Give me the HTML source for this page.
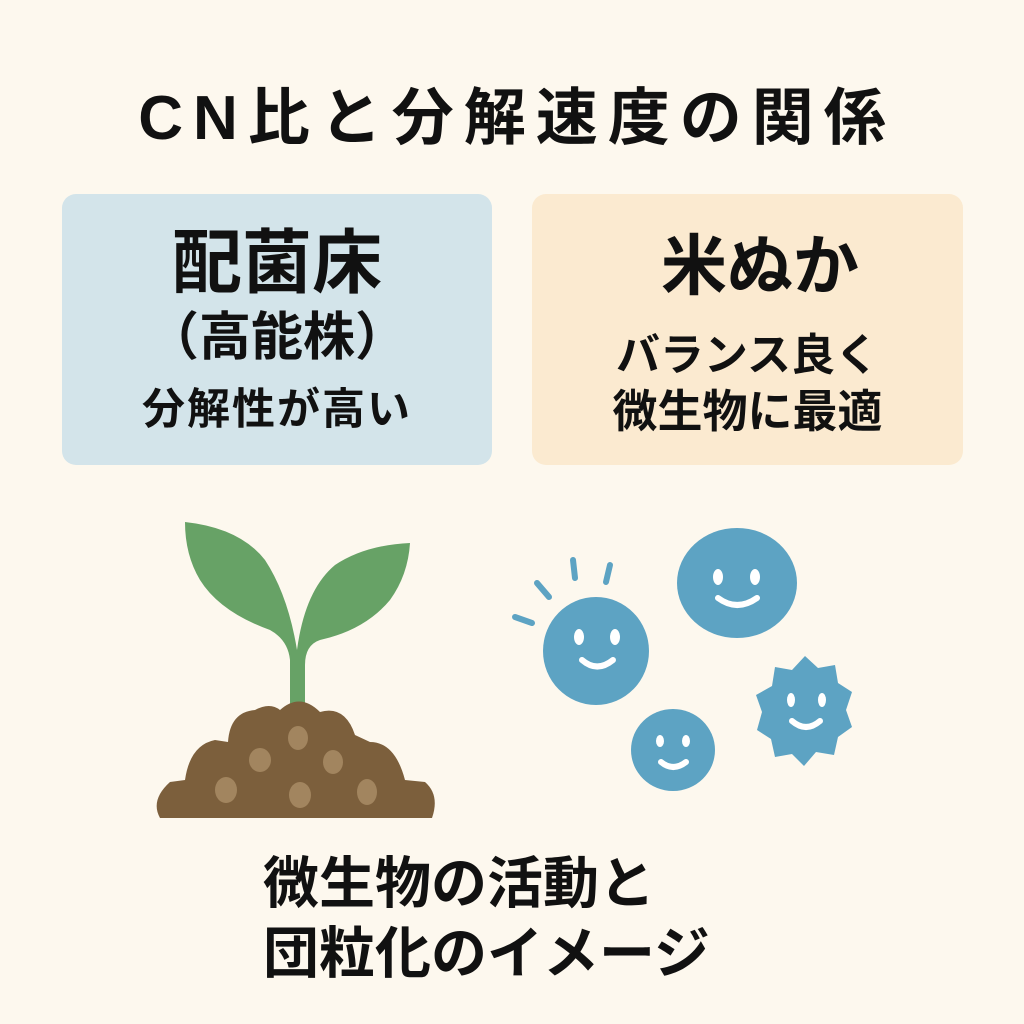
<!DOCTYPE html>
<html><head><meta charset="utf-8"><style>
body{margin:0;width:1024px;height:1024px;background:#fdf8ee;position:relative;overflow:hidden;font-family:"Liberation Sans","Noto Sans CJK JP",sans-serif;color:#111}
.t{position:absolute;white-space:nowrap;font-weight:bold;line-height:1}
.box{position:absolute;border-radius:14px}
</style></head><body>
<div class="t" style="left:0;width:1024px;text-align:center;top:88px;font-size:62px;letter-spacing:10px;text-indent:10px">CN比と分解速度の関係</div>
<div class="box" style="left:62px;top:194px;width:430px;height:271px;background:#d3e4ea"></div>
<div class="box" style="left:532px;top:194px;width:431px;height:271px;background:#fbead0"></div>
<div class="t" style="left:62px;width:430px;text-align:center;top:228px;font-size:70px;">配菌床</div>
<div class="t" style="left:62px;width:430px;text-align:center;top:312px;font-size:52px;">（高能株）</div>
<div class="t" style="left:62px;width:430px;text-align:center;top:389px;font-size:43px;letter-spacing:2px">分解性が高い</div>
<div class="t" style="left:545px;width:430px;text-align:center;top:233px;font-size:66px;">米ぬか</div>
<div class="t" style="left:532px;width:431px;text-align:center;top:334px;font-size:44px;">バランス良く</div>
<div class="t" style="left:532px;width:431px;text-align:center;top:389px;font-size:45px;">微生物に最適</div>
<div class="t" style="left:263px;top:856px;font-size:56px;">微生物の活動と</div>
<div class="t" style="left:263px;top:926px;font-size:56px;">団粒化のイメージ</div>
<svg width="1024" height="1024" style="position:absolute;left:0;top:0">
<path d="M290 706 L290 660 Q288 640 270 630 Q220 612 200 580 Q185 555 185 522 Q240 528 265 560 Q288 595 297 650 Q305 590 335 565 Q365 545 410 543 Q408 575 390 600 Q365 630 320 640 Q305 645 305 665 L305 706 Z" fill="#67a266"/>
<path d="M160 818 Q150 800 170 782 L185 780 Q190 745 215 740 L228 742 Q230 712 255 710 Q270 702 280 710 Q300 692 320 712 Q345 705 355 735 L370 742 Q395 742 405 780 L425 782 Q440 795 432 818 Z" fill="#7c5f3c"/>
<g fill="#a2855f"><ellipse cx="298" cy="738" rx="10" ry="12"/><ellipse cx="260" cy="760" rx="11" ry="12"/><ellipse cx="333" cy="762" rx="10" ry="12"/><ellipse cx="226" cy="790" rx="11" ry="13"/><ellipse cx="300" cy="795" rx="11" ry="13"/><ellipse cx="367" cy="792" rx="10" ry="13"/></g>
<g fill="#5da3c3"><ellipse cx="596" cy="651" rx="53" ry="54"/><ellipse cx="737" cy="583" rx="60" ry="55"/><ellipse cx="673" cy="750" rx="42" ry="41"/>
<path d="M805 656 L818 668 L835 665 L838 683 L852 692 L846 710 L852 727 L838 737 L834 755 L816 752 L804 766 L792 754 L775 757 L771 739 L757 730 L762 712 L756 695 L772 686 L775 667 L792 670 Z"/></g>
<g stroke="#5da3c3" stroke-width="6" stroke-linecap="round"><line x1="515" y1="617" x2="532" y2="623"/><line x1="537" y1="583" x2="549" y2="597"/><line x1="573" y1="560" x2="575" y2="578"/><line x1="610" y1="565" x2="606" y2="582"/></g>
<g fill="#fff"><ellipse cx="579" cy="637" rx="5" ry="8"/><ellipse cx="615" cy="637" rx="5" ry="8"/><ellipse cx="718" cy="577" rx="5" ry="8"/><ellipse cx="755" cy="577" rx="5" ry="8"/><ellipse cx="660" cy="741" rx="4" ry="6"/><ellipse cx="686" cy="741" rx="4" ry="6"/><ellipse cx="791" cy="700" rx="4" ry="7"/><ellipse cx="822" cy="700" rx="4" ry="7"/></g>
<g fill="none" stroke="#fff" stroke-width="6" stroke-linecap="round"><path d="M582 660 Q597 673 613 660"/><path d="M718 598 Q737 612 757 598"/><path d="M661 762 Q673 772 686 762"/><path d="M792 721 Q806 733 820 721"/></g>
</svg>
</body></html>
